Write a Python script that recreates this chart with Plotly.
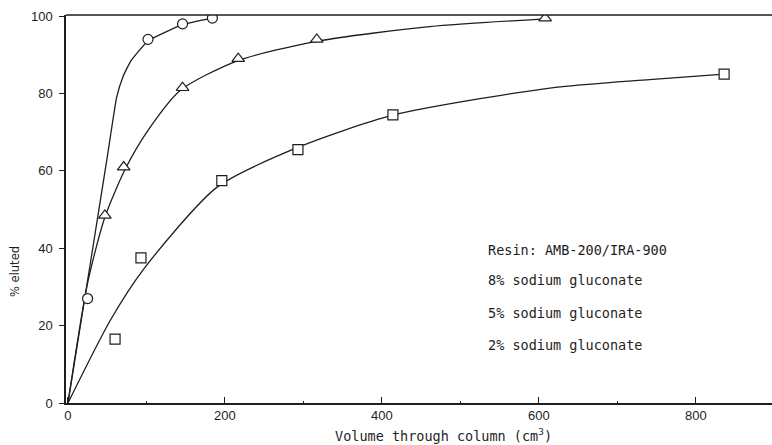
import plotly.graph_objects as go

# Measured points
x8 = [25, 102, 146, 184]
y8 = [27, 94, 98, 99.5]
x5 = [47, 71, 146, 217, 317, 608]
y5 = [48.5, 61, 81.5, 89, 94, 99.5]
x2 = [60, 93, 196, 293, 414, 836]
y2 = [16.5, 37.5, 57.5, 65.5, 74.5, 85]

# Hand-drawn fitted curves
cx8 = [0, 30, 50, 62, 70, 80, 102, 146, 184]
cy8 = [0, 38, 63.5, 79, 84.3, 88.4, 93.6, 97.8, 99.5]
cx5 = [0, 25, 47, 73, 102, 143, 215, 317, 461, 608]
cy5 = [0, 31, 48, 60.5, 70.5, 80.8, 88.4, 93.5, 97.3, 99.3]
cx2 = [0, 54, 96, 190, 292, 414, 614, 741, 836]
cy2 = [0, 21.4, 34.5, 55.8, 66, 74.4, 81.4, 83.6, 85]

xticks = [0, 200, 400, 600, 800]
yticks = [0, 20, 40, 60, 80, 100]
legend_lines = ["Resin: AMB-200/IRA-900", "8% sodium gluconate",
                "5% sodium gluconate", "2% sodium gluconate"]
legend_y = [39.5, 31.8, 23.3, 15]

INK = "#1e1e1e"
MONO = "DejaVu Sans Mono"

fig = go.Figure()
for cx, cy, sm in [(cx8, cy8, 0.4), (cx5, cy5, 0.7), (cx2, cy2, 0.7)]:
    fig.add_trace(go.Scatter(x=cx, y=cy, mode="lines",
                             line=dict(color=INK, width=1.3, shape="spline", smoothing=sm),
                             showlegend=False, hoverinfo="skip"))

for xs, ys, sym, sz in [(x8, y8, "circle", 10), (x5, y5, "triangle-up", 11),
                        (x2, y2, "square", 10)]:
    fig.add_trace(go.Scatter(x=xs, y=ys, mode="markers",
                             marker=dict(symbol=sym, size=sz,
                                         color="white", line=dict(color=INK, width=1.2)),
                             showlegend=False))

for txt, yy in zip(legend_lines, legend_y):
    fig.add_annotation(x=532, y=yy, xref="x", yref="y", text=txt, showarrow=False,
                       xanchor="left", yanchor="middle",
                       font=dict(family=MONO, size=13.5, color=INK))

fig.add_annotation(x=0.534, y=-0.082, xref="paper", yref="paper",
                   text="Volume through column (cm<sup>3</sup>)", showarrow=False,
                   xanchor="center", yanchor="middle",
                   font=dict(family=MONO, size=13.5, color=INK))
fig.add_annotation(x=-0.072, y=0.338, xref="paper", yref="paper",
                   text="% eluted", showarrow=False, textangle=-90,
                   xanchor="center", yanchor="middle",
                   font=dict(family="DejaVu Sans", size=11.5, color=INK))

fig.update_xaxes(range=[-2.5, 897], tickvals=xticks, ticks="inside", ticklen=6,
                 tickcolor=INK, showline=True, linecolor=INK, linewidth=1.5,
                 mirror=False, showgrid=False, zeroline=False,
                 tickfont=dict(family="Liberation Sans", size=13, color=INK),
                 minor=dict(tickvals=[100, 300, 500, 700], ticks="inside", ticklen=2,
                            tickcolor=INK))
fig.update_yaxes(range=[0, 100.3], tickvals=yticks, ticks="outside", ticklen=5,
                 tickcolor=INK, showline=True, linecolor=INK, linewidth=1.5,
                 mirror=False, showgrid=False, zeroline=False, ticklabelstandoff=4,
                 tickfont=dict(family="Liberation Sans", size=13, color=INK))
# top border
fig.add_shape(type="line", xref="paper", yref="paper", x0=0, x1=1, y0=1, y1=1,
              line=dict(color=INK, width=1.5))

fig.update_layout(width=772, height=445, margin=dict(l=66, r=0, t=15, b=42),
                  plot_bgcolor="white", paper_bgcolor="white")
fig.write_html("out.html")
